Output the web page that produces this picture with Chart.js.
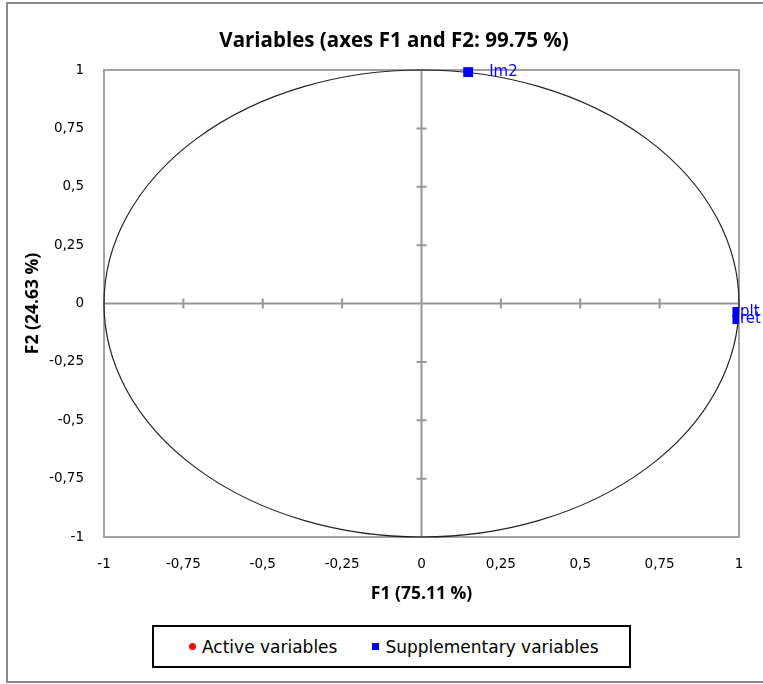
<!DOCTYPE html>
<html>
<head>
<meta charset="utf-8">
<script src="https://cdn.jsdelivr.net/npm/chart.js@4"></script>
<style>
  html, body { margin: 0; padding: 0; background: #fff; overflow: hidden; width: 763px; height: 684px; }
  #wrap { position: absolute; left: 0; top: 0; width: 788px; height: 684px; }
  #legend {
    position: absolute; left: 152px; top: 625px; width: 479px; height: 43px;
    box-sizing: border-box; border: 2px solid #000; background: #fff;
    display: flex; align-items: center; padding-left: 35px;
    font: 17px "DejaVu Sans", sans-serif; color: #000; white-space: nowrap;
  }
  #legend .item { display: flex; align-items: center; }
  #legend .item + .item { margin-left: 35px; }
  #legend .mark { width: 7px; height: 7px; margin-right: 6px; flex: none; }
  #legend .mark.circle { border-radius: 50%; }
</style>
</head>
<body>
<div id="wrap"><canvas id="c" width="788" height="684"></canvas></div>
<div id="legend"></div>
<script>
// Texts
const chartTitle = 'Variables (axes F1 and F2: 99.75 %)';
const f1Title = 'F1 (75.11 %)';
const f2Title = 'F2 (24.63 %)';

// Active variables (none plotted on this map)
const activeNames = [];
const activeF1 = [];
const activeF2 = [];

// Supplementary variables: coordinates on F1 / F2
const supNames = ['Im2', 'plt', 'ret'];
const supF1 = [0.147, 0.995, 0.995];
const supF2 = [0.991, -0.036, -0.067];

// Axis ticks
const axisTicks = [-1, -0.75, -0.5, -0.25, 0, 0.25, 0.5, 0.75, 1];
const tickText = ['-1', '-0,75', '-0,5', '-0,25', '0', '0,25', '0,5', '0,75', '1'];

const toPoints = (xs, ys) => xs.map((x, i) => ({ x, y: ys[i] }));

Chart.defaults.font.family = '"DejaVu Sans", sans-serif';
Chart.defaults.color = '#000';

const titleFont = { family: '"Open Sans", sans-serif', size: 20.5, weight: 'bold' };
const axisTitleFont = { family: '"Open Sans", sans-serif', size: 17.5, weight: 'bold' };

// Outer frame, plot frame, zero axes with tick marks, correlation circle
const backdrop = {
  id: 'backdrop',
  beforeDraw(chart) {
    const ctx = chart.ctx;
    ctx.save();
    ctx.fillStyle = '#fff';
    ctx.fillRect(0, 0, chart.width, chart.height);
    ctx.strokeStyle = '#8a8a8a';
    ctx.lineWidth = 2;
    ctx.strokeRect(7, 3, chart.width + 20, 679);
    ctx.restore();
  },
  beforeDatasetsDraw(chart) {
    const { ctx, chartArea: a, scales: { x, y } } = chart;
    const x0 = x.getPixelForValue(0), y0 = y.getPixelForValue(0);
    ctx.save();
    ctx.strokeStyle = '#a3a3a3';
    ctx.lineWidth = 2;
    ctx.strokeRect(a.left, a.top, a.right - a.left, a.bottom - a.top);

    ctx.strokeStyle = '#979797';
    ctx.lineWidth = 2;
    ctx.beginPath();
    ctx.moveTo(a.left, y0); ctx.lineTo(a.right, y0);
    ctx.moveTo(x0, a.top); ctx.lineTo(x0, a.bottom);
    axisTicks.forEach(v => {
      const px = x.getPixelForValue(v), py = y.getPixelForValue(v);
      ctx.moveTo(px, y0 - 5); ctx.lineTo(px, y0 + 5);
      ctx.moveTo(x0 - 5, py); ctx.lineTo(x0 + 5, py);
    });
    ctx.stroke();

    const rx = x.getPixelForValue(1) - x0;
    const ry = y0 - y.getPixelForValue(1);
    ctx.strokeStyle = '#222';
    ctx.lineWidth = 1.2;
    ctx.beginPath();
    ctx.ellipse(x0, y0, rx, ry, 0, 0, Math.PI * 2);
    ctx.stroke();
    ctx.restore();
  },
  afterDatasetsDraw(chart) {
    const { ctx, chartArea: a } = chart;
    ctx.save();
    ctx.font = '15px "DejaVu Sans", sans-serif';
    ctx.textBaseline = 'middle';
    ctx.textAlign = 'left';
    chart.data.datasets.forEach((ds, di) => {
      const meta = chart.getDatasetMeta(di);
      ctx.fillStyle = ds.backgroundColor;
      meta.data.forEach((pt, i) => {
        const name = ds.names[i];
        if (!name) return;
        const tx = Math.min(pt.x + 21, a.right + 1);
        ctx.fillText(name, tx, pt.y);
      });
    });
    ctx.restore();
  }
};

const chart = new Chart(document.getElementById('c'), {
  type: 'scatter',
  data: {
    datasets: [
      {
        label: 'Active variables',
        names: activeNames,
        data: toPoints(activeF1, activeF2),
        backgroundColor: '#ff0000',
        borderWidth: 0,
        pointStyle: 'circle',
        pointRadius: 4
      },
      {
        label: 'Supplementary variables',
        names: supNames,
        data: toPoints(supF1, supF2),
        backgroundColor: '#0000ff',
        borderWidth: 0,
        pointStyle: 'rect',
        pointRadius: 7,
        clip: { left: false, top: false, right: 0, bottom: false }
      }
    ]
  },
  options: {
    responsive: false,
    animation: false,
    events: [],
    layout: { padding: { left: 10, right: 10, top: 0, bottom: 67 } },
    plugins: {
      legend: { display: false },
      tooltip: { enabled: false },
      title: {
        display: true,
        text: chartTitle,
        color: '#000',
        font: titleFont,
        padding: { top: 28.7, bottom: 16.7 }
      }
    },
    scales: {
      x: {
        type: 'linear',
        min: -1, max: 1,
        afterBuildTicks: s => { s.ticks = axisTicks.map(v => ({ value: v })); },
        afterFit: s => { s.height = 80; },
        grid: { display: false, drawTicks: false },
        border: { display: false },
        ticks: {
          padding: 19,
          maxRotation: 0,
          font: { size: 13.5 },
          color: '#000',
          callback: (v, i) => tickText[i]
        },
        title: {
          display: true,
          text: f1Title,
          color: '#000',
          font: axisTitleFont,
          padding: { top: 0, bottom: 12.5 }
        }
      },
      y: {
        type: 'linear',
        min: -1, max: 1,
        afterBuildTicks: s => { s.ticks = axisTicks.map(v => ({ value: v })); },
        afterFit: s => { s.width = 94; },
        grid: { display: false, drawTicks: false },
        border: { display: false },
        ticks: {
          padding: 20,
          font: { size: 13.5 },
          color: '#000',
          callback: (v, i) => tickText[i]
        },
        title: {
          display: true,
          text: f2Title,
          color: '#000',
          font: axisTitleFont,
          padding: { top: 13, bottom: 0 }
        }
      },
      // empty right-hand gutter keeping the plot clear of the cut-off edge
      gutter: {
        type: 'linear',
        position: 'right',
        display: true,
        afterFit: s => { s.width = 39; },
        grid: { display: false, drawTicks: false },
        border: { display: false },
        ticks: { display: false }
      }
    }
  },
  plugins: [backdrop]
});

// Legend built from the chart's datasets
const legendEl = document.getElementById('legend');
chart.data.datasets.forEach(ds => {
  const item = document.createElement('div');
  item.className = 'item';
  const mark = document.createElement('span');
  mark.className = 'mark' + (ds.pointStyle === 'circle' ? ' circle' : '');
  mark.style.background = ds.backgroundColor;
  const txt = document.createElement('span');
  txt.textContent = ds.label;
  item.appendChild(mark);
  item.appendChild(txt);
  legendEl.appendChild(item);
});
</script>
</body>
</html>
